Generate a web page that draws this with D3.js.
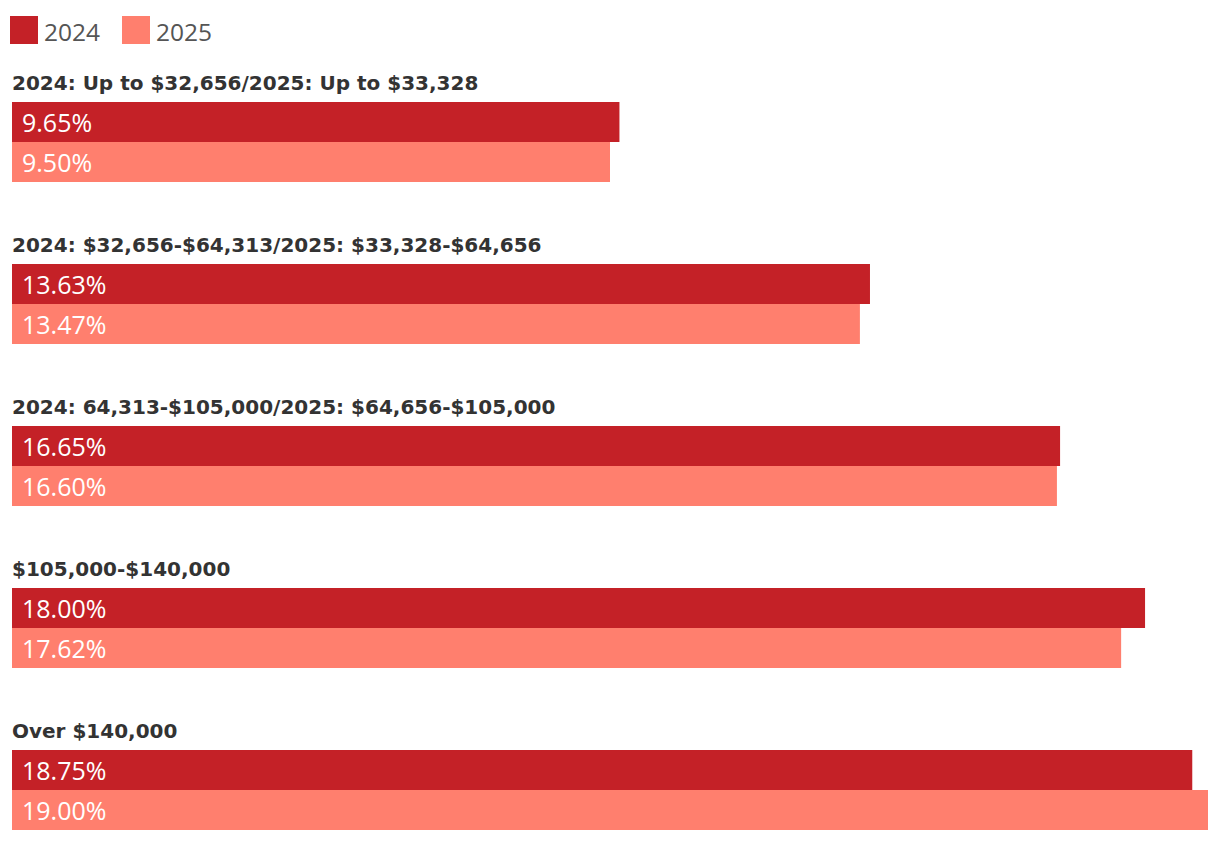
<!DOCTYPE html>
<html><head><meta charset="utf-8">
<script src="https://cdn.jsdelivr.net/npm/d3@7"></script>
<style>body{margin:0;background:#fff}svg{display:block}</style>
</head><body>
<script>
const categories = [
  "2024: Up to $32,656/2025: Up to $33,328",
  "2024: $32,656-$64,313/2025: $33,328-$64,656",
  "2024: 64,313-$105,000/2025: $64,656-$105,000",
  "$105,000-$140,000",
  "Over $140,000"
];
const seriesNames = ["2024", "2025"];
const values2024 = [9.65, 13.63, 16.65, 18.00, 18.75];
const values2025 = [9.50, 13.47, 16.60, 17.62, 19.00];
const colors = ["#C42127", "#FF7F6E"];

const W = 1220, H = 842;
const svg = d3.select("body").append("svg").attr("width", W).attr("height", H);

const x = d3.scaleLinear().domain([0, 19]).range([12, 1208]);
const yGroup = d3.scaleBand().domain(categories).range([102, 102 + 162 * 5]);
const yBar = d3.scaleBand().domain(seriesNames).range([0, 80]);

// legend
const leg = svg.append("g");
seriesNames.forEach((s, i) => {
  const lx = 10 + i * 112;
  leg.append("rect").attr("x", lx).attr("y", 16).attr("width", 28).attr("height", 28).attr("fill", colors[i]);
  leg.append("text").attr("x", lx + 34).attr("y", 40.5).text(s)
    .attr("font-family", "'Open Sans', sans-serif").attr("font-size", 24.5).attr("fill", "#555");
});

const g = svg.append("g");
const groups = g.selectAll("g.grp").data(categories).join("g")
  .attr("transform", d => `translate(0,${yGroup(d)})`);

groups.append("text").attr("x", 12).attr("y", -12.5)
  .text(d => d).attr("font-family", "'DejaVu Sans', sans-serif").attr("font-weight", "bold")
  .attr("font-size", 20).attr("fill", "#333");

const series = [values2024, values2025];
groups.each(function(c, ci) {
  const gg = d3.select(this);
  seriesNames.forEach((s, si) => {
    const v = series[si][ci];
    gg.append("rect").attr("x", x(0)).attr("y", yBar(s))
      .attr("width", x(v) - x(0)).attr("height", yBar.bandwidth()).attr("fill", colors[si]);
    gg.append("text").attr("x", x(0) + 10).attr("y", yBar(s) + yBar.bandwidth() / 2 + 9.5)
      .text(v.toFixed(2) + "%").attr("font-family", "'Open Sans', sans-serif")
      .attr("font-size", 25).attr("fill", "#fff");
  });
});
</script>
</body></html>
